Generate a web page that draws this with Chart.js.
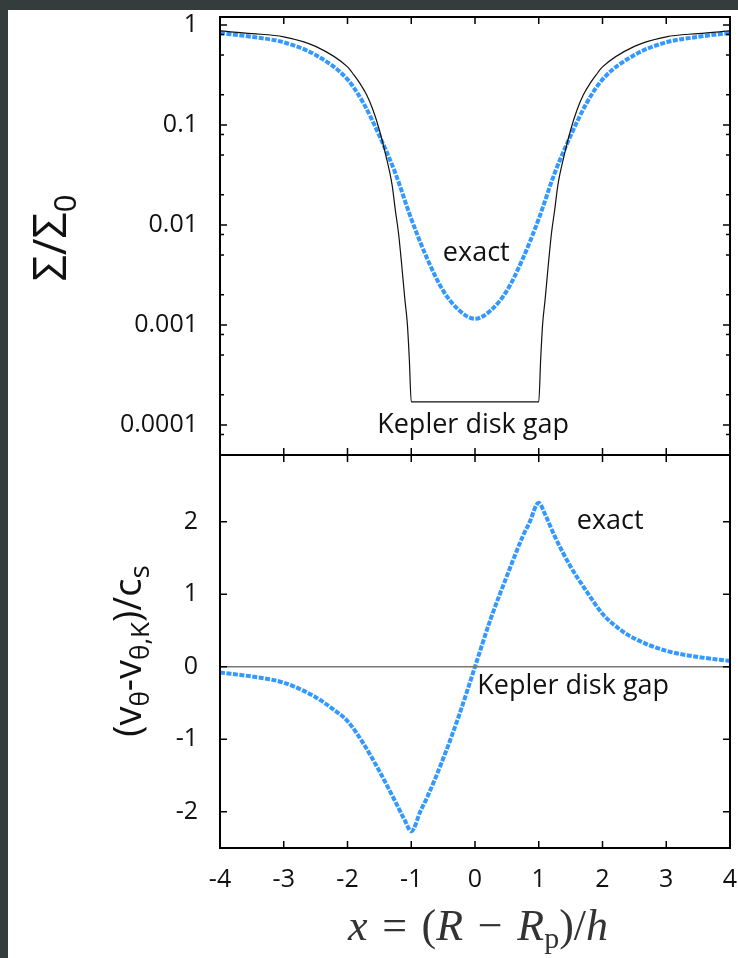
<!DOCTYPE html>
<html>
<head>
<meta charset="utf-8">
<script src="https://cdn.jsdelivr.net/npm/chart.js@4.4.0/dist/chart.umd.min.js"></script>
<style>
    html, body { margin: 0; padding: 0; }
    body { width: 738px; height: 958px; background: #343c3c; position: relative; overflow: hidden; }
    #sheet { position: absolute; left: 8px; top: 10px; right: 0; bottom: 0; background: #fff; }
    #top_wrap { position: absolute; left: 0; top: 0; width: 738px; height: 460px; }
    #bottom_wrap { position: absolute; left: 0; top: 450px; width: 738px; height: 508px; }
</style>
</head>
<body>
<div id="sheet"></div>
<div id="top_wrap"><canvas id="sigma_chart" width="738" height="460"></canvas></div>
<div id="bottom_wrap"><canvas id="vel_chart" width="738" height="508"></canvas></div>
<script>
// x = (R - Rp)/h
const xTicks = [-4, -3, -2, -1, 0, 1, 2, 3, 4];

// top panel: surface density, Kepler disk gap (black) and exact (blue)
const keplerX = [-4, -3.5, -3, -2.5, -2, -1.9, -1.8, -1.7, -1.6, -1.5, -1.4, -1.3, -1.25, -1.2, -1.15, -1.1, -1.06, -1.03, -1,
    1, 1.03, 1.06, 1.1, 1.15, 1.2, 1.25, 1.3, 1.4, 1.5, 1.6, 1.7, 1.8, 1.9, 2, 2.5, 3, 3.5, 4];
const keplerSigma = [0.87, 0.82, 0.76, 0.61, 0.38, 0.316, 0.257, 0.2, 0.141, 0.089, 0.05, 0.025, 0.0141, 0.0083, 0.004, 0.0018, 0.001, 0.00045, 0.00017,
    0.00017, 0.00045, 0.001, 0.0018, 0.004, 0.0083, 0.0141, 0.025, 0.05, 0.089, 0.141, 0.2, 0.257, 0.316, 0.38, 0.61, 0.76, 0.82, 0.87];

const exactX = [-4, -3.5, -3, -2.5, -2, -1.75, -1.5, -1.25, -1, -0.75, -0.5, -0.25, 0,
    0.25, 0.5, 0.75, 1, 1.25, 1.5, 1.75, 2, 2.5, 3, 3.5, 4];
const exactSigma = [0.83, 0.76, 0.67, 0.5, 0.285, 0.165, 0.078, 0.033, 0.0115, 0.0046, 0.0022, 0.0014, 0.00115,
    0.0014, 0.0022, 0.0046, 0.0115, 0.033, 0.078, 0.165, 0.285, 0.5, 0.67, 0.76, 0.83];

const sigmaTicks = [0.0001, 0.001, 0.01, 0.1, 1];
const sigmaTickLabels = ["0.0001", "0.001", "0.01", "0.1", "1"];
const sigmaMinor = [0.00008, 0.0002, 0.0005, 0.0008, 0.002, 0.005, 0.008, 0.02, 0.05, 0.08, 0.2, 0.5, 0.8];

// bottom panel: azimuthal velocity deviation
const keplerVelX = [-4, 4];
const keplerVel = [0, 0];

const velX = [-4, -3.5, -3, -2.5, -2.25, -2, -1.75, -1.5, -1.25, -1.1, -1, -0.85, -0.75, -0.5, -0.25, 0,
    0.25, 0.5, 0.75, 0.85, 1, 1.1, 1.25, 1.5, 1.75, 2, 2.25, 2.5, 3, 3.5, 4];
const velValues = [-0.08, -0.135, -0.22, -0.42, -0.57, -0.75, -1.06, -1.44, -1.86, -2.12, -2.27, -1.98, -1.8, -1.27, -0.67, 0,
    0.67, 1.25, 1.8, 1.98, 2.26, 2.1, 1.8, 1.38, 1.04, 0.73, 0.53, 0.39, 0.22, 0.135, 0.08];

const velTicks = [-2, -1, 0, 1, 2];

const toPoints = (xs, ys) => xs.map((x, i) => ({ x: x, y: ys[i] }));

const BLUE = "#3399ff";
const FONT = "'Open Sans', 'Noto Sans', sans-serif";

// draws text in pieces, so sub-scripts can be shifted
drawRich = (ctx, parts, x, y, angle) => {
    ctx.save();
    ctx.translate(x, y);
    ctx.rotate(angle);
    ctx.textBaseline = "alphabetic";
    ctx.textAlign = "left";
    let total = 0;
    parts.forEach(p => {
        ctx.font = p.font;
        total += ctx.measureText(p.t).width;
    });
    let cx = -total / 2;
    parts.forEach(p => {
        ctx.font = p.font;
        ctx.fillStyle = p.color || "#111";
        ctx.fillText(p.t, cx, p.dy || 0);
        cx += ctx.measureText(p.t).width;
    });
    ctx.restore();
};

// frame with inward tick marks on all four sides
const frameTicks = {
    id: "frameTicks",
    afterDatasetsDraw(chart, args, opts) {
        const { ctx, chartArea: a, scales } = chart;
        ctx.save();
        ctx.strokeStyle = "#000";
        ctx.lineWidth = 1.5;
        ctx.beginPath();
        xTicks.forEach(v => {
            const px = scales.x.getPixelForValue(v);
            ctx.moveTo(px, a.top);
            ctx.lineTo(px, a.top + 7);
            ctx.moveTo(px, a.bottom);
            ctx.lineTo(px, a.bottom - 7);
        });
        opts.major.forEach(v => {
            const py = scales.y.getPixelForValue(v);
            ctx.moveTo(a.left, py);
            ctx.lineTo(a.left + 7, py);
            ctx.moveTo(a.right, py);
            ctx.lineTo(a.right - 7, py);
        });
        (opts.minor || []).forEach(v => {
            const py = scales.y.getPixelForValue(v);
            ctx.moveTo(a.left, py);
            ctx.lineTo(a.left + 4, py);
            ctx.moveTo(a.right, py);
            ctx.lineTo(a.right - 4, py);
        });
        ctx.stroke();
        ctx.lineWidth = 2;
        ctx.strokeRect(a.left, a.top, a.right - a.left, a.bottom - a.top);
        ctx.restore();
    }
};

// curve labels and axis titles
const textLayer = {
    id: "textLayer",
    afterDraw(chart, args, opts) {
        const ctx = chart.ctx;
        const sx = chart.scales.x, sy = chart.scales.y;
        ctx.save();
        ctx.fillStyle = "#111";
        ctx.textAlign = "center";
        ctx.textBaseline = "middle";
        ctx.font = "27px " + FONT;
        opts.notes.forEach(n => {
            ctx.fillText(n.text, sx.getPixelForValue(n.x), sy.getPixelForValue(n.y));
        });
        ctx.restore();
        opts.titles.forEach(t => drawRich(ctx, t.parts, t.x, t.y, t.angle));
    }
};

// fixed axis box sizes, no extra label padding, so both plot frames line up
const fixWidth = s => { s.width = 220; s.paddingTop = 0; s.paddingBottom = 0; };
const fixHeight = s => { s.height = 110; s.paddingLeft = 0; s.paddingRight = 0; };

const tickFont = { family: FONT, size: 25 };
const SERIF = "44px 'Liberation Serif'";
const SERIF_I = "italic 44px 'Liberation Serif'";

new Chart("sigma_chart", {
    type: "line",
    data: {
        datasets: [{
            data: toPoints(keplerX, keplerSigma),
            borderColor: "#111",
            borderWidth: 1.2,
            cubicInterpolationMode: "monotone"
        }, {
            data: toPoints(exactX, exactSigma),
            borderColor: BLUE,
            borderWidth: 4,
            borderDash: [5, 1.5],
            cubicInterpolationMode: "monotone"
        }]
    },
    options: {
        responsive: false,
        animation: false,
        layout: { padding: { left: 0, top: 17, right: 8, bottom: 5 } },
        elements: { point: { radius: 0 } },
        scales: {
            x: { type: "linear", min: -4, max: 4, display: false },
            y: {
                type: "logarithmic",
                min: 0.00005,
                max: 1.2,
                afterBuildTicks: s => { s.ticks = sigmaTicks.map(v => ({ value: v })); },
                afterFit: fixWidth,
                grid: { display: false, drawTicks: false },
                border: { display: false },
                ticks: {
                    padding: 22,
                    color: "#111",
                    font: tickFont,
                    callback: (v, i) => sigmaTickLabels[i]
                }
            }
        },
        plugins: {
            legend: { display: false },
            tooltip: { enabled: false },
            frameTicks: { major: sigmaTicks, minor: sigmaMinor },
            textLayer: {
                notes: [
                    { text: "exact", x: 0.02, y: 0.0052 },
                    { text: "Kepler disk gap", x: -0.03, y: 0.0001 }
                ],
                titles: [{
                    x: 66, y: 238, angle: -Math.PI / 2,
                    parts: [
                        { t: "Σ/Σ", font: "46px " + FONT },
                        { t: "0", font: "31px " + FONT, dy: 10 }
                    ]
                }]
            }
        }
    },
    plugins: [frameTicks, textLayer]
});

new Chart("vel_chart", {
    type: "line",
    data: {
        datasets: [{
            data: toPoints(keplerVelX, keplerVel),
            borderColor: "#777",
            borderWidth: 1.5
        }, {
            data: toPoints(velX, velValues),
            borderColor: BLUE,
            borderWidth: 4,
            borderDash: [5, 1.5],
            cubicInterpolationMode: "monotone"
        }]
    },
    options: {
        responsive: false,
        animation: false,
        layout: { padding: { left: 0, top: 5, right: 8, bottom: 0 } },
        elements: { point: { radius: 0 } },
        scales: {
            x: {
                type: "linear",
                min: -4,
                max: 4,
                afterBuildTicks: s => { s.ticks = xTicks.map(v => ({ value: v })); },
                afterFit: fixHeight,
                grid: { display: false, drawTicks: false },
                border: { display: false },
                ticks: {
                    padding: 17,
                    color: "#111",
                    font: tickFont,
                    maxRotation: 0,
                    autoSkip: false,
                    callback: v => String(v)
                }
            },
            y: {
                type: "linear",
                min: -2.5,
                max: 2.92,
                afterBuildTicks: s => { s.ticks = velTicks.map(v => ({ value: v })); },
                afterFit: fixWidth,
                grid: { display: false, drawTicks: false },
                border: { display: false },
                ticks: {
                    padding: 22,
                    color: "#111",
                    font: tickFont,
                    callback: v => String(v)
                }
            }
        },
        plugins: {
            legend: { display: false },
            tooltip: { enabled: false },
            frameTicks: { major: velTicks },
            textLayer: {
                notes: [
                    { text: "exact", x: 2.12, y: 2.01 },
                    { text: "Kepler disk gap", x: 1.54, y: -0.27 }
                ],
                titles: [{
                    x: 141, y: 201, angle: -Math.PI / 2,
                    parts: [
                        { t: "(v", font: "38px " + FONT },
                        { t: "θ", font: "26px " + FONT, dy: 8 },
                        { t: "-v", font: "38px " + FONT },
                        { t: "θ,K", font: "26px " + FONT, dy: 8 },
                        { t: ")/c", font: "38px " + FONT },
                        { t: "s", font: "28px " + FONT, dy: 8 }
                    ]
                }, {
                    x: 478, y: 490, angle: 0,
                    parts: [
                        { t: "x", font: SERIF_I, color: "#333" },
                        { t: "\u2004=\u2004(", font: SERIF, color: "#333" },
                        { t: "R", font: SERIF_I, color: "#333" },
                        { t: "\u2004\u2212\u2004", font: SERIF, color: "#333" },
                        { t: "R", font: SERIF_I, color: "#333" },
                        { t: "p", font: "30px 'Liberation Serif'", color: "#333", dy: 8 },
                        { t: ")/", font: SERIF, color: "#333" },
                        { t: "h", font: SERIF_I, color: "#333" }
                    ]
                }]
            }
        }
    },
    plugins: [frameTicks, textLayer]
});
</script>
</body>
</html>
